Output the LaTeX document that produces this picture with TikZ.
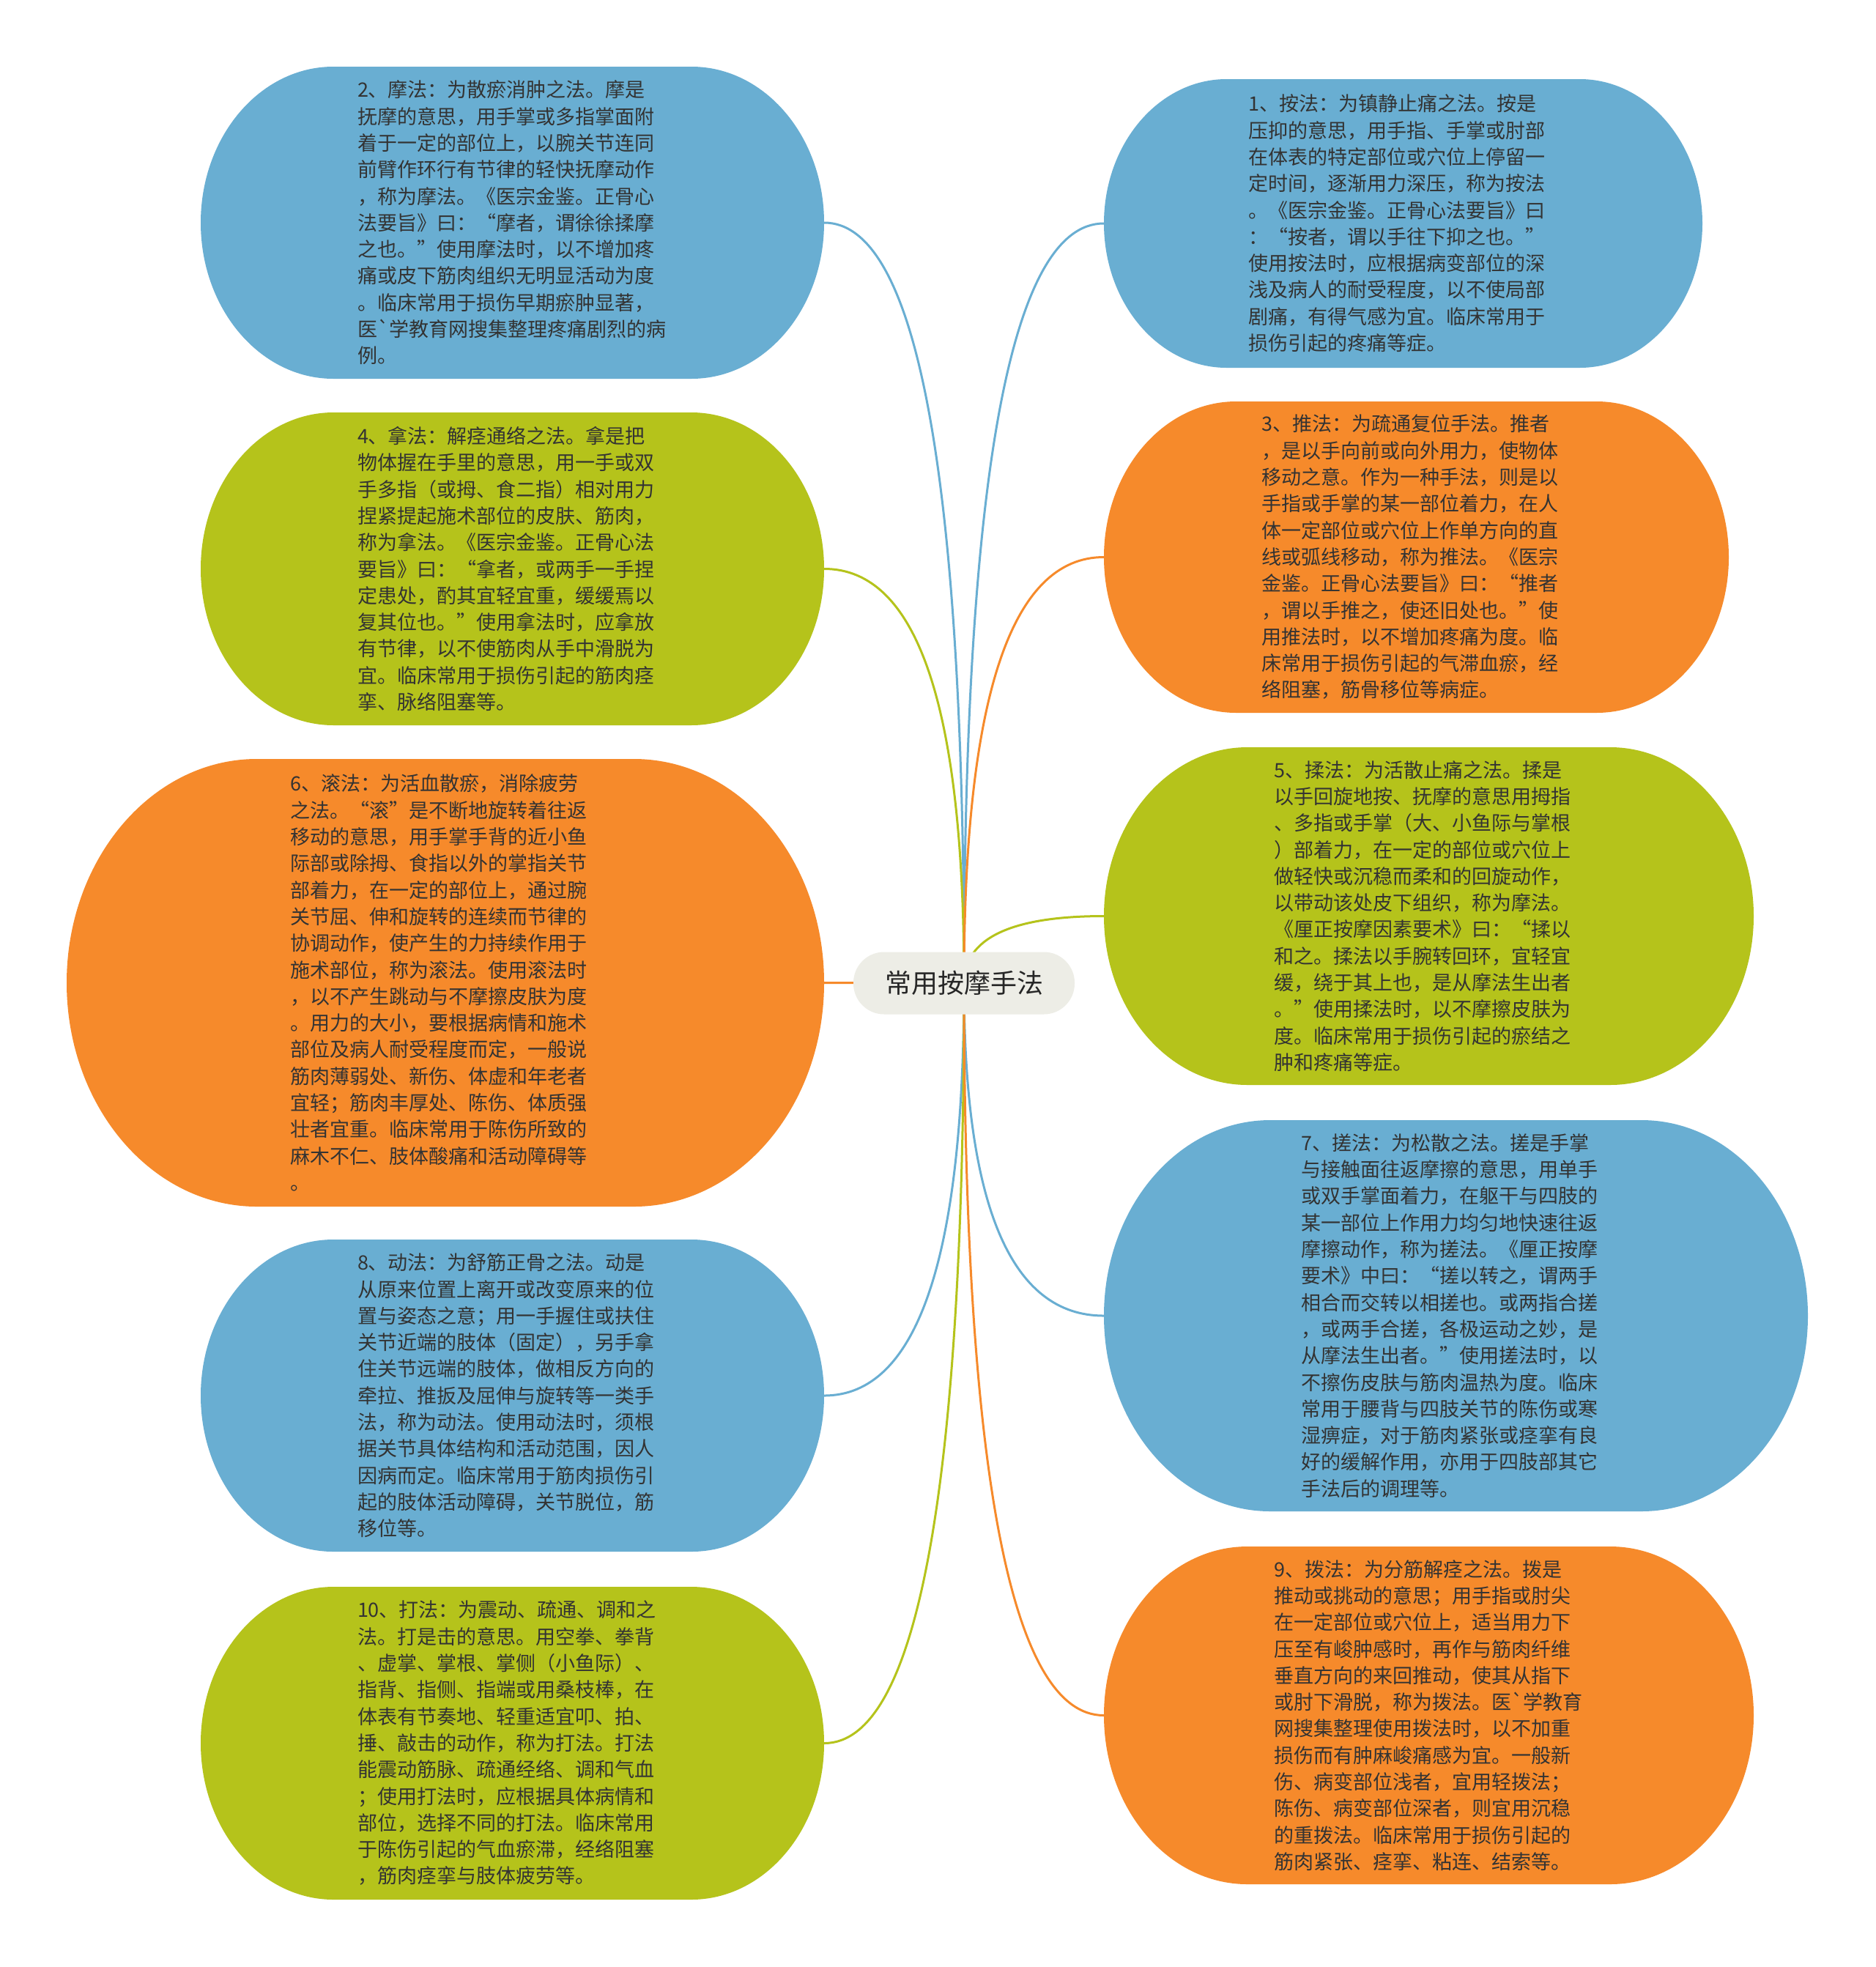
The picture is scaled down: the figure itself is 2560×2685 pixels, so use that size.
\documentclass[tikz,border=0pt]{standalone}
\usepackage{fontspec}
\newfontfamily\cjk{Noto Sans CJK SC}[Ligatures=TeXOff]
\usetikzlibrary{calc}
\pgfdeclarelayer{back}
\pgfdeclarelayer{bg}
\pgfsetlayers{back,bg,main}
\definecolor{mblue}{HTML}{69AED2}
\definecolor{morange}{HTML}{F68A2B}
\definecolor{mgreen}{HTML}{B5C31B}
\definecolor{rootfill}{HTML}{EDEDE6}
\definecolor{textc}{HTML}{333333}
\tikzset{
  txt/.style={inner sep=0pt, text width=423pt, align=left, text=textc, font=\cjk\fontsize{27}{36.3}\selectfont},
  conn/.style={line width=3pt},
  rootnode/.style={fill=rootfill, rounded corners=42pt, minimum width=302pt, minimum height=85pt,
    inner sep=0pt, text=black!85, font=\cjk\fontsize{36}{40}\selectfont}
}
\newcommand\mmblob[7]{%
  \pgfmathsetmacro\bw{#4-#2}%
  \pgfmathsetmacro\bh{#5-#3}%
  \pgfmathsetmacro\ry{\bh/2}%
  \pgfmathsetmacro\rx{0.85*\ry}%
  \fill[#6] ({#2+\rx},-#3) -- ({#4-\rx},-#3) arc[start angle=90,end angle=-90,x radius=\rx,y radius=\ry]
     -- ({#2+\rx},-#5) arc[start angle=270,end angle=90,x radius=\rx,y radius=\ry] -- cycle;
  \node[txt, minimum width=\bw pt, minimum height=\bh pt] (#1) at ({(#2+#4)/2},{-(#3+#5)/2}) {#7};
}
\newcommand\mmlink[2]{%
  \draw[conn,#2] (c.center) .. controls ($(c.center)!0.6667!(c.center|-#1)$) and ($(#1)!0.6667!(c.center|-#1)$) .. (#1);
}
\begin{document}
\begin{tikzpicture}[x=1pt,y=1pt]
\begin{pgfonlayer}{back}
\fill[white] (0,0) rectangle (2560,-2685);
\end{pgfonlayer}
\useasboundingbox (0,0) rectangle (2560,-2685);

\mmblob{n2}{274}{91}{1125}{517}{mblue}{2、摩法：为散瘀消肿之法。摩是\\抚摩的意思，用手掌或多指掌面附\\着于一定的部位上，以腕关节连同\\前臂作环行有节律的轻快抚摩动作\\，称为摩法。《医宗金鉴。正骨心\\法要旨》曰：“摩者，谓徐徐揉摩\\之也。”使用摩法时，以不增加疼\\痛或皮下筋肉组织无明显活动为度\\。临床常用于损伤早期瘀肿显著，\\医`学教育网搜集整理疼痛剧烈的病\\例。}

\mmblob{n1}{1507}{108}{2324}{502}{mblue}{1、按法：为镇静止痛之法。按是\\压抑的意思，用手指、手掌或肘部\\在体表的特定部位或穴位上停留一\\定时间，逐渐用力深压，称为按法\\。《医宗金鉴。正骨心法要旨》曰\\：“按者，谓以手往下抑之也。”\\使用按法时，应根据病变部位的深\\浅及病人的耐受程度，以不使局部\\剧痛，有得气感为宜。临床常用于\\损伤引起的疼痛等症。}

\mmblob{n4}{274}{563}{1125}{990}{mgreen}{4、拿法：解痉通络之法。拿是把\\物体握在手里的意思，用一手或双\\手多指（或拇、食二指）相对用力\\捏紧提起施术部位的皮肤、筋肉，\\称为拿法。《医宗金鉴。正骨心法\\要旨》曰：“拿者，或两手一手捏\\定患处，酌其宜轻宜重，缓缓焉以\\复其位也。”使用拿法时，应拿放\\有节律，以不使筋肉从手中滑脱为\\宜。临床常用于损伤引起的筋肉痉\\挛、脉络阻塞等。}

\mmblob{n3}{1507}{548}{2360}{973}{morange}{3、推法：为疏通复位手法。推者\\，是以手向前或向外用力，使物体\\移动之意。作为一种手法，则是以\\手指或手掌的某一部位着力，在人\\体一定部位或穴位上作单方向的直\\线或弧线移动，称为推法。《医宗\\金鉴。正骨心法要旨》曰：“推者\\，谓以手推之，使还旧处也。”使\\用推法时，以不增加疼痛为度。临\\床常用于损伤引起的气滞血瘀，经\\络阻塞，筋骨移位等病症。}

\mmblob{n6}{91}{1036}{1125}{1647}{morange}{6、滚法：为活血散瘀，消除疲劳\\之法。“滚”是不断地旋转着往返\\移动的意思，用手掌手背的近小鱼\\际部或除拇、食指以外的掌指关节\\部着力，在一定的部位上，通过腕\\关节屈、伸和旋转的连续而节律的\\协调动作，使产生的力持续作用于\\施术部位，称为滚法。使用滚法时\\，以不产生跳动与不摩擦皮肤为度\\。用力的大小，要根据病情和施术\\部位及病人耐受程度而定，一般说\\筋肉薄弱处、新伤、体虚和年老者\\宜轻；筋肉丰厚处、陈伤、体质强\\壮者宜重。临床常用于陈伤所致的\\麻木不仁、肢体酸痛和活动障碍等\\。}

\mmblob{n5}{1507}{1020}{2394}{1481}{mgreen}{5、揉法：为活散止痛之法。揉是\\以手回旋地按、抚摩的意思用拇指\\、多指或手掌（大、小鱼际与掌根\\）部着力，在一定的部位或穴位上\\做轻快或沉稳而柔和的回旋动作，\\以带动该处皮下组织，称为摩法。\\《厘正按摩因素要术》曰：“揉以\\和之。揉法以手腕转回环，宜轻宜\\缓，绕于其上也，是从摩法生出者\\。”使用揉法时，以不摩擦皮肤为\\度。临床常用于损伤引起的瘀结之\\肿和疼痛等症。}

\mmblob{n8}{274}{1692}{1125}{2118}{mblue}{8、动法：为舒筋正骨之法。动是\\从原来位置上离开或改变原来的位\\置与姿态之意；用一手握住或扶住\\关节近端的肢体（固定），另手拿\\住关节远端的肢体，做相反方向的\\牵拉、推扳及屈伸与旋转等一类手\\法，称为动法。使用动法时，须根\\据关节具体结构和活动范围，因人\\因病而定。临床常用于筋肉损伤引\\起的肢体活动障碍，关节脱位，筋\\移位等。}

\mmblob{n7}{1507}{1529}{2468}{2063}{mblue}{7、搓法：为松散之法。搓是手掌\\与接触面往返摩擦的意思，用单手\\或双手掌面着力，在躯干与四肢的\\某一部位上作用力均匀地快速往返\\摩擦动作，称为搓法。《厘正按摩\\要术》中曰：“搓以转之，谓两手\\相合而交转以相搓也。或两指合搓\\，或两手合搓，各极运动之妙，是\\从摩法生出者。”使用搓法时，以\\不擦伤皮肤与筋肉温热为度。临床\\常用于腰背与四肢关节的陈伤或寒\\湿痹症，对于筋肉紧张或痉挛有良\\好的缓解作用，亦用于四肢部其它\\手法后的调理等。}

\mmblob{n10}{274}{2166}{1125}{2593}{mgreen}{10、打法：为震动、疏通、调和之\\法。打是击的意思。用空拳、拳背\\、虚掌、掌根、掌侧（小鱼际）、\\指背、指侧、指端或用桑枝棒，在\\体表有节奏地、轻重适宜叩、拍、\\捶、敲击的动作，称为打法。打法\\能震动筋脉、疏通经络、调和气血\\；使用打法时，应根据具体病情和\\部位，选择不同的打法。临床常用\\于陈伤引起的气血瘀滞，经络阻塞\\，筋肉痉挛与肢体疲劳等。}

\mmblob{n9}{1507}{2111}{2394}{2572}{morange}{9、拨法：为分筋解痉之法。拨是\\推动或挑动的意思；用手指或肘尖\\在一定部位或穴位上，适当用力下\\压至有峻肿感时，再作与筋肉纤维\\垂直方向的来回推动，使其从指下\\或肘下滑脱，称为拨法。医`学教育\\网搜集整理使用拨法时，以不加重\\损伤而有肿麻峻痛感为宜。一般新\\伤、病变部位浅者，宜用轻拨法；\\陈伤、病变部位深者，则宜用沉稳\\的重拨法。临床常用于损伤引起的\\筋肉紧张、痉挛、粘连、结索等。}

\node[rootnode] (c) at (1316,-1342) {常用按摩手法};

\begin{pgfonlayer}{bg}
\mmlink{n2.east}{mblue}
\mmlink{n1.west}{mblue}
\mmlink{n4.east}{mgreen}
\mmlink{n3.west}{morange}
\mmlink{n6.east}{morange}
\mmlink{n5.west}{mgreen}
\mmlink{n8.east}{mblue}
\mmlink{n7.west}{mblue}
\mmlink{n10.east}{mgreen}
\mmlink{n9.west}{morange}
\end{pgfonlayer}
\end{tikzpicture}
\end{document}
